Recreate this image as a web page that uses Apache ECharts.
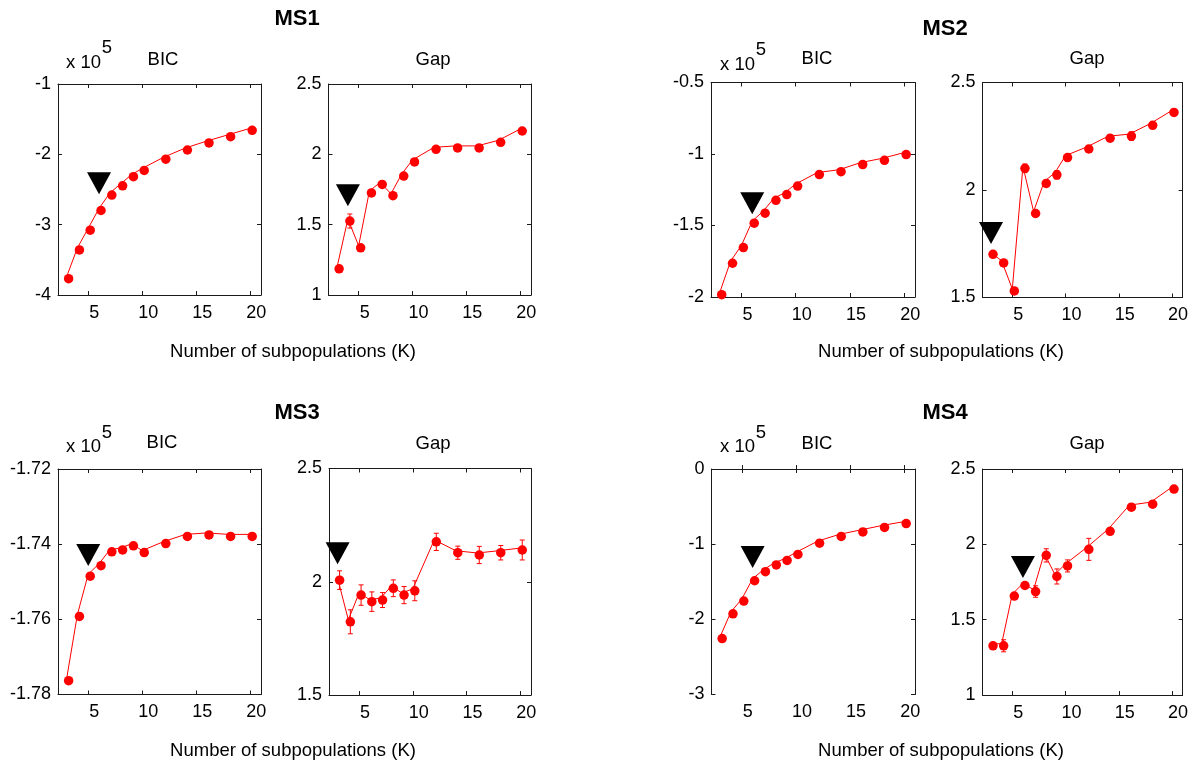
<!DOCTYPE html>
<html>
<head>
<meta charset="utf-8">
<script src="https://cdn.jsdelivr.net/npm/echarts@6/dist/echarts.min.js"></script>
<style>
html,body{margin:0;padding:0;background:#fff;}
#chart{width:1191px;height:764px;}
</style>
</head>
<body>
<div id="chart"></div>
<script>
// ---------- DATA ----------
const K = [3, 4, 5, 6, 7, 8, 9, 10, 12, 14, 16, 18, 20];
const xTicks = [5, 10, 15, 20];

// BIC values (in units of 10^5)
const ms1Bic = [-3.74, -3.33, -3.05, -2.77, -2.55, -2.42, -2.29, -2.20, -2.04, -1.91, -1.81, -1.72, -1.63];
const ms2Bic = [-1.97, -1.75, -1.64, -1.47, -1.40, -1.31, -1.27, -1.21, -1.13, -1.11, -1.06, -1.03, -0.99];
const ms3Bic = [-1.7758, -1.7587, -1.7480, -1.7452, -1.7415, -1.7410, -1.7399, -1.7417, -1.7393, -1.7374, -1.7370, -1.7374, -1.7374];
const ms4Bic = [-2.23, -1.90, -1.73, -1.46, -1.34, -1.25, -1.19, -1.11, -0.96, -0.87, -0.81, -0.75, -0.70];

// Gap statistic values and error bars
const ms1Gap = [1.20, 1.54, 1.35, 1.74, 1.80, 1.72, 1.86, 1.96, 2.05, 2.06, 2.06, 2.10, 2.18];
const ms1GapErr = [0.01, 0.05, 0.02, 0.02, 0.02, 0.01, 0.02, 0.02, 0.02, 0.015, 0.015, 0.015, 0.01];
const ms2Gap = [1.71, 1.67, 1.54, 2.11, 1.90, 2.04, 2.08, 2.16, 2.20, 2.25, 2.26, 2.31, 2.37];
const ms2GapErr = [0.01, 0.01, 0.01, 0.02, 0.015, 0.015, 0.02, 0.015, 0.015, 0.015, 0.02, 0.015, 0.015];
const ms3Gap = [2.016, 1.832, 1.950, 1.921, 1.928, 1.980, 1.950, 1.969, 2.185, 2.137, 2.127, 2.137, 2.149];
const ms3GapErr = [0.041, 0.053, 0.045, 0.043, 0.033, 0.037, 0.038, 0.044, 0.038, 0.029, 0.038, 0.032, 0.044];
const ms4Gap = [1.34, 1.34, 1.67, 1.74, 1.70, 1.94, 1.80, 1.87, 1.98, 2.10, 2.26, 2.28, 2.38];
const ms4GapErr = [0.02, 0.04, 0.02, 0.02, 0.038, 0.044, 0.05, 0.04, 0.073, 0.02, 0.02, 0.015, 0.015];

// Selected K markers (black triangles): [K, y]
const ms1BicBest = [6, -2.41];
const ms1GapBest = [4, 1.71];
const ms2BicBest = [6, -1.345];
const ms2GapBest = [3, 1.80];
const ms3BicBest = [5, -1.7429];
const ms3GapBest = [3, 2.126];
const ms4BicBest = [6, -1.17];
const ms4GapBest = [6, 1.85];

// Y axis ranges: [min, max, interval]
const ms1BicY = [-4, -1, 1];
const ms2BicY = [-2, -0.5, 0.5];
const ms3BicY = [-1.78, -1.72, 0.02];
const ms4BicY = [-3, 0, 1];
const ms1GapY = [1, 2.5, 0.5];
const ms2GapY = [1.5, 2.5, 0.5];
const ms3GapY = [1.5, 2.5, 0.5];
const ms4GapY = [1, 2.5, 0.5];

const titles = ['MS1', 'MS2', 'MS3', 'MS4'];
const subTitles = ['BIC', 'Gap'];
const xLabel = 'Number of subpopulations (K)';
const scaleLabel = 'x 10';
const scaleExp = '5';

// ---------- LAYOUT ----------
const FONT = '"Liberation Sans", Arial, Helvetica, sans-serif';
const panels = [
  {rect: [58, 84, 203, 211], vals: ms1Bic, y: ms1BicY, best: ms1BicBest},
  {rect: [328.5, 84, 202.5, 211], vals: ms1Gap, err: ms1GapErr, y: ms1GapY, best: ms1GapBest},
  {rect: [711, 82.5, 204, 214.5], vals: ms2Bic, y: ms2BicY, best: ms2BicBest},
  {rect: [982.5, 82.5, 203, 215], vals: ms2Gap, err: ms2GapErr, y: ms2GapY, best: ms2GapBest},
  {rect: [58, 469, 203, 225.5], vals: ms3Bic, y: ms3BicY, best: ms3BicBest},
  {rect: [329, 468.5, 202, 226.5], vals: ms3Gap, err: ms3GapErr, y: ms3GapY, best: ms3GapBest},
  {rect: [711.5, 469, 203.5, 225.5], vals: ms4Bic, y: ms4BicY, best: ms4BicBest},
  {rect: [982.5, 469, 203, 226], vals: ms4Gap, err: ms4GapErr, y: ms4GapY, best: ms4GapBest}
];

const X_MIN = 2.2, X_MAX = 21;
const AX = '#1a1a1a';
const RED = '#ff0000';

function fmt(v) { return String(+(+v).toFixed(2)); }

const grid = [], xAxis = [], yAxis = [], series = [];
panels.forEach((p, i) => {
  grid.push({left: p.rect[0], top: p.rect[1], width: p.rect[2], height: p.rect[3], containLabel: false});
  const axLine = {show: true, lineStyle: {color: AX, width: 1}};
  const tick = {show: true, inside: true, length: 4, lineStyle: {color: AX, width: 1}};
  xAxis.push({
    gridIndex: i, type: 'value', position: 'bottom', min: X_MIN, max: X_MAX,
    axisLine: axLine, splitLine: {show: false},
    axisTick: Object.assign({}, tick, {customValues: xTicks}),
    axisLabel: {customValues: xTicks, color: '#000', fontFamily: FONT, fontSize: 18, margin: 9,
      padding: [0, 0, 0, 12], formatter: v => fmt(v)}
  });
  xAxis.push({
    gridIndex: i, type: 'value', position: 'top', min: X_MIN, max: X_MAX,
    axisLine: axLine, splitLine: {show: false},
    axisTick: Object.assign({}, tick, {customValues: xTicks}),
    axisLabel: {show: false}
  });
  yAxis.push({
    gridIndex: i, type: 'value', position: 'left', min: p.y[0], max: p.y[1], interval: p.y[2],
    axisLine: axLine, splitLine: {show: false}, axisTick: tick,
    axisLabel: {color: '#000', fontFamily: FONT, fontSize: 18, margin: 7, formatter: v => fmt(v)}
  });
  yAxis.push({
    gridIndex: i, type: 'value', position: 'right', min: p.y[0], max: p.y[1], interval: p.y[2],
    axisLine: axLine, splitLine: {show: false}, axisTick: tick, axisLabel: {show: false}
  });
  const xi = 2 * i, yi = 2 * i;
  if (p.err) {
    series.push({
      type: 'custom', xAxisIndex: xi, yAxisIndex: yi, silent: true, z: 3,
      data: K.map((k, j) => [k, p.vals[j] - p.err[j], p.vals[j] + p.err[j]]),
      renderItem: (params, api) => {
        const x = api.value(0);
        const lo = api.coord([x, api.value(1)]);
        const hi = api.coord([x, api.value(2)]);
        const cx = lo[0] + 2, w = 2.5;
        const st = {stroke: RED, lineWidth: 1};
        return {type: 'group', children: [
          {type: 'line', shape: {x1: cx, y1: lo[1] + 2, x2: cx, y2: hi[1] + 2}, style: st},
          {type: 'line', shape: {x1: cx - w, y1: lo[1] + 2, x2: cx + w, y2: lo[1] + 2}, style: st},
          {type: 'line', shape: {x1: cx - w, y1: hi[1] + 2, x2: cx + w, y2: hi[1] + 2}, style: st}
        ]};
      }
    });
  }
  series.push({
    type: 'line', xAxisIndex: xi, yAxisIndex: yi, z: 4,
    data: K.map((k, j) => [k, p.vals[j]]),
    lineStyle: {color: RED, width: 1},
    itemStyle: {color: RED, opacity: 1},
    symbol: 'circle', symbolSize: 9.5, symbolOffset: [2, 2], showAllSymbol: true,
    animation: false, silent: true
  });
  series.push({
    type: 'scatter', xAxisIndex: xi, yAxisIndex: yi, z: 5,
    data: [p.best],
    symbol: 'triangle', symbolRotate: 180, symbolSize: [24, 22],
    itemStyle: {color: '#000', opacity: 1}, animation: false, silent: true
  });
});

// ---------- TEXT ----------
const graphic = [];
function txt(text, x, y, opts) {
  graphic.push({type: 'text', x: x, y: y, style: Object.assign({
    text: text, fill: '#000', font: '18.5px ' + FONT, textAlign: 'center', textVerticalAlign: 'middle'
  }, opts || {})});
}
const titlePos = [[297, 19], [945, 29], [297, 413], [945, 413]];
titles.forEach((t, i) => txt(t, titlePos[i][0], titlePos[i][1], {font: 'bold 22px ' + FONT}));
const subPos = [[163, 59.5], [433, 60], [817, 59], [1087, 59], [162, 443], [433, 443.5], [817, 443.5], [1087, 443.5]];
subPos.forEach((s, i) => txt(subTitles[i % 2], s[0], s[1]));
const xlPos = [[293, 352], [941, 352], [293, 750.5], [941, 750.5]];
xlPos.forEach(s => txt(xLabel, s[0], s[1]));
const scPos = [[66, 62.5], [720, 64.5], [66, 447], [720, 447]];
scPos.forEach(s => {
  txt(scaleLabel, s[0], s[1], {textAlign: 'left'});
  txt(scaleExp, s[0] + 41, s[1] - 14.5, {textAlign: 'center'});
});

const chart = echarts.init(document.getElementById('chart'), null, {renderer: 'canvas'});
chart.setOption({
  backgroundColor: '#fff',
  animation: false,
  grid: grid, xAxis: xAxis, yAxis: yAxis, series: series, graphic: graphic
});
</script>
</body>
</html>
